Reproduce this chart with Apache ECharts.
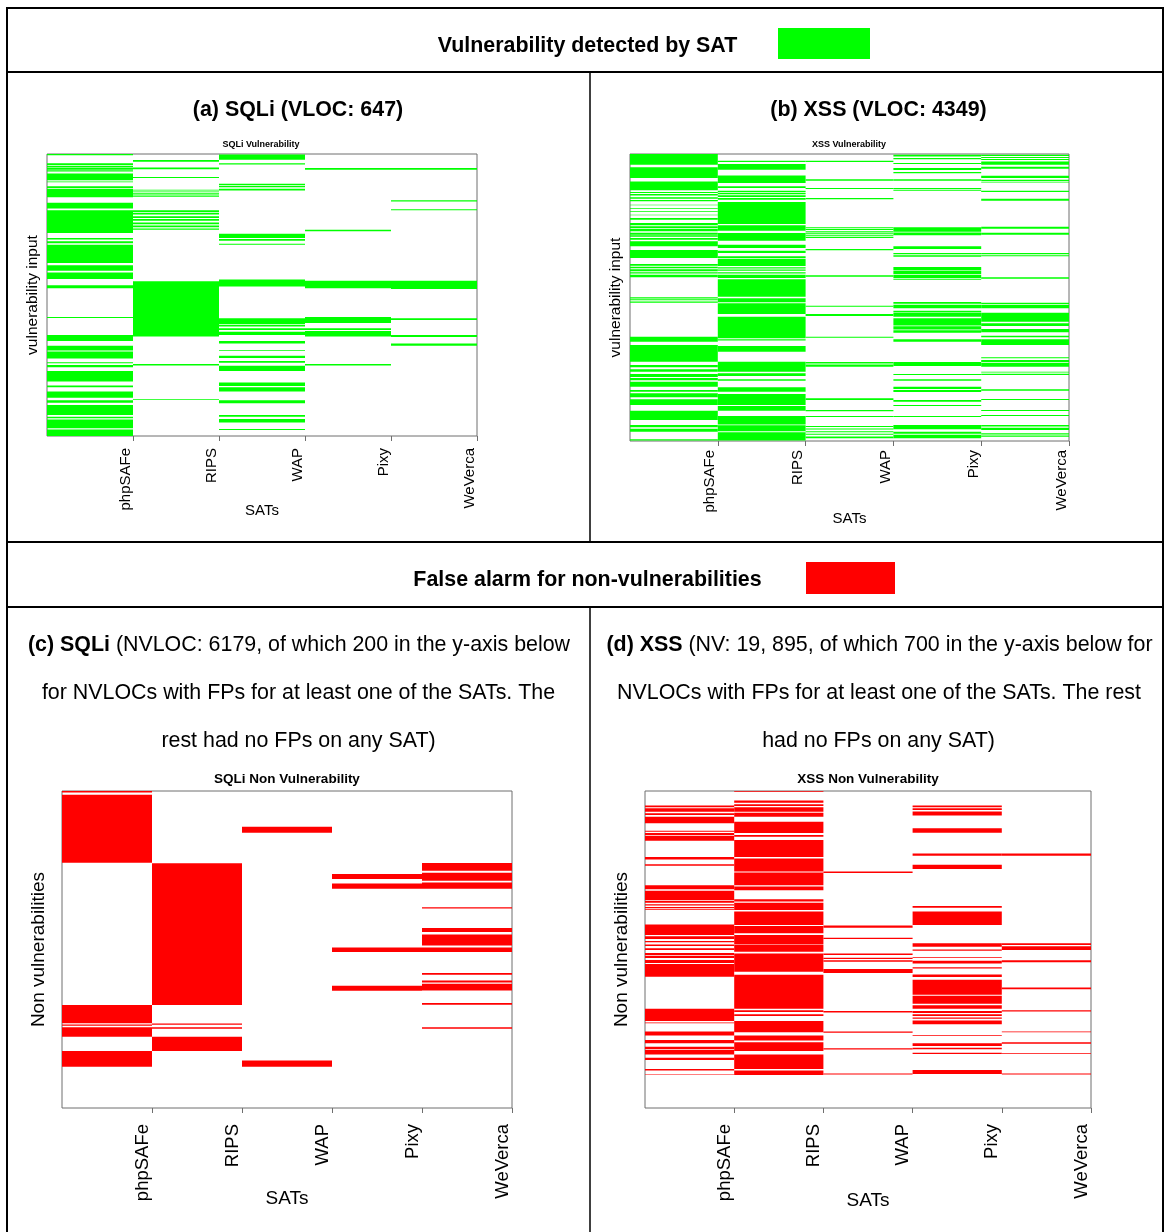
<!DOCTYPE html>
<html>
<head>
<meta charset="utf-8">
<script src="https://cdn.jsdelivr.net/npm/echarts@6/dist/echarts.min.js"></script>
<style>
  html, body { margin: 0; padding: 0; background: #fff; }
  #chart { width: 1169px; height: 1232px; }
</style>
</head>
<body>
<div id="chart"></div>
<script>
// Static analysis tools (columns of every heat strip)
const SATS = ['phpSAFe', 'RIPS', 'WAP', 'Pixy', 'WeVerca'];

// Row counts of each strip chart (y axis length)
const ROWS_SQLI_V = 647;
const ROWS_XSS_V = 4349;
const ROWS_SQLI_NV = 200;
const ROWS_XSS_NV = 700;

// Runs of rows [first, last] flagged by each tool, listed per tool in SATS order.
// (a) SQLi vulnerabilities detected
const SQLI_VULN = [
  [[0,3],[21,25],[27,31],[32,36],[37,40],[45,60],[63,65],[74,78],[80,99],[112,125],[129,181],[193,196],[200,205],[208,250],[255,268],[272,287],[301,308],[374,376],[415,429],[440,451],[453,469],[478,480],[484,489],[498,522],[531,535],[545,559],[565,571],[576,599],[603,606],[609,629],[632,647]],
  [[14,18],[31,35],[53,55],[82,84],[86,88],[90,93],[95,98],[129,133],[135,139],[143,147],[149,153],[157,161],[164,168],[171,174],[292,419],[482,485],[562,564]],
  [[1,13],[21,24],[68,71],[73,76],[80,84],[183,193],[195,199],[206,208],[288,304],[377,390],[392,396],[400,404],[408,415],[429,435],[450,452],[463,468],[475,479],[486,498],[524,532],[535,545],[565,572],[599,603],[608,616],[631,633]],
  [[32,36],[174,177],[291,308],[374,388],[400,404],[406,419],[482,485]],
  [[32,36],[106,109],[127,129],[291,310],[377,381],[415,420],[435,440]]
];

// (b) XSS vulnerabilities detected
const XSS_VULN = [
  [[0,162],[202,364],[415,551],[576,591],[606,627],[657,677],[697,717],[768,778],[819,829],[869,879],[919,929],[970,995],[1046,1081],[1096,1121],[1132,1172],[1192,1222],[1232,1253],[1273,1298],[1323,1399],[1455,1576],[1667,1692],[1707,1730],[1745,1778],[1793,1810],[1830,1869],[2172,2190],[2200,2215],[2235,2253],[2768,2844],[2894,3147],[3197,3233],[3263,3298],[3334,3380],[3395,3430],[3450,3526],[3576,3601],[3627,3687],[3717,3803],[3889,4030],[4106,4142],[4162,4207],[4323,4343]],
  [[101,122],[152,238],[324,440],[490,515],[556,580],[590,610],[625,650],[665,692],[728,1061],[1081,1162],[1197,1313],[1374,1424],[1465,1500],[1551,1576],[1586,1697],[1717,1735],[1750,1770],[1790,1810],[1830,1879],[1899,2162],[2187,2248],[2263,2425],[2465,2793],[2808,2825],[2909,2995],[3147,3298],[3324,3364],[3414,3435],[3536,3601],[3637,3803],[3818,3889],[3970,4100],[4110,4200],[4215,4343]],
  [[101,122],[384,404],[515,530],[667,687],[1111,1125],[1135,1150],[1170,1185],[1195,1210],[1225,1240],[1255,1273],[1440,1460],[1839,1859],[2298,2314],[2425,2455],[2768,2783],[3152,3175],[3190,3223],[3702,3728],[3879,3899],[3970,3985],[4121,4135],[4160,4175],[4200,4215],[4240,4255],[4280,4308]],
  [[10,36],[61,81],[137,152],[212,242],[273,293],[384,404],[515,530],[540,556],[1111,1180],[1190,1232],[1399,1440],[1500,1520],[1535,1556],[1712,1760],[1770,1820],[1830,1880],[1890,1904],[2243,2270],[2285,2339],[2374,2400],[2410,2465],[2490,2600],[2610,2660],[2670,2707],[2808,2844],[3152,3212],[3334,3349],[3414,3435],[3526,3560],[3575,3606],[3728,3753],[3803,3818],[3970,3985],[4106,4172],[4207,4240],[4255,4308]],
  [[10,30],[45,60],[75,91],[112,162],[192,222],[329,364],[389,410],[420,430],[556,576],[677,707],[1101,1132],[1192,1222],[1500,1520],[1535,1551],[1869,1889],[2253,2275],[2290,2339],[2404,2541],[2566,2606],[2652,2702],[2753,2778],[2808,2894],[3081,3096],[3122,3150],[3165,3223],[3298,3310],[3330,3349],[3566,3586],[3713,3728],[3879,3894],[3955,3970],[4106,4130],[4150,4182],[4232,4250],[4265,4283]]
];

// (c) SQLi false alarms on non-vulnerable lines
const SQLI_NONVULN = [
  [[0,0.9],[2.3,45.2],[135,146.6],[147.3,148.1],[149,155],[164,174]],
  [[45.6,135],[146.7,147.4],[149,150],[155,164]],
  [[22.5,26.3],[170,174]],
  [[52.4,55.5],[58.3,61.6],[98.7,101.6],[122.9,126]],
  [[45.4,50.3],[51.5,56.6],[57.8,61.6],[73.4,74.2],[86.4,89],[90.6,97.4],[98.7,101.6],[114.9,116],[119.5,120.8],[121.6,125.8],[133.8,134.9],[149,150]]
];

// (d) XSS false alarms on non-vulnerable lines
const XSS_NONVULN = [
  [[32,36],[38,46],[49,53],[57,71],[88,90],[93,97],[99,110],[146,151],[162,165],[208,217],[220,241],[243,247],[250,253],[256,259],[261,263],[295,318],[321,327],[331,334],[339,342],[347,351],[358,362],[364,369],[373,380],[382,410],[481,508],[511,513],[531,540],[550,557],[565,570],[572,582],[589,594],[614,617],[625,626]],
  [[0,1.5],[21,26],[29,33],[36,46],[48,57],[68,93],[97,101],[108,146],[149,178],[180,208],[211,219],[239,244],[247,263],[266,296],[298,314],[318,339],[340,355],[359,399],[406,481],[484,488],[493,497],[508,533],[540,551],[555,574],[582,614],[617,627]],
  [[178,181],[297,302],[324,327],[359,362],[368,371],[374,377],[393,402],[486,489],[531,534],[568,571],[624,626]],
  [[32,36],[38,42],[45,54],[82,92],[138,143],[163,172],[254,258],[266,296],[336,344],[350,353],[367,369],[375,381],[389,392],[405,411],[417,450],[452,470],[473,481],[486,490],[493,497],[500,503],[507,515],[539,540.5],[557,563],[567,570],[578,581],[616,625]],
  [[138,143],[336,340],[343,351],[374,378],[434,438],[484,487],[531,533],[555,558],[579,581],[624,626]]
];

const GREEN = '#00ff00';
const RED = '#ff0000';
const FONT = '"Liberation Sans", Arial, Helvetica, sans-serif';

// flatten per-tool runs into [toolIndex, firstRow, lastRow] items
function toItems(cols) {
  const out = [];
  cols.forEach((runs, c) => runs.forEach(r => out.push([c, r[0], r[1]])));
  return out;
}

function renderStripe(params, api) {
  const c = api.value(0);
  const a = api.coord([c, api.value(1)]);
  const b = api.coord([c + 1, api.value(2)]);
  return {
    type: 'rect',
    shape: { x: a[0], y: a[1], width: b[0] - a[0], height: Math.max(b[1] - a[1], 0.5) },
    style: api.style()
  };
}

const panels = [
  { rows: ROWS_SQLI_V, data: SQLI_VULN, color: GREEN, grid: { left: 47, top: 154, width: 430, height: 282 },
    yName: 'vulnerability input', yNameSize: 15.5, yGap: 6, tickSize: 15, labelMargin: 12, xNameSize: 15, xGap: 67 },
  { rows: ROWS_XSS_V, data: XSS_VULN, color: GREEN, grid: { left: 630, top: 154, width: 439, height: 287 },
    yName: 'vulnerability input', yNameSize: 15.5, yGap: 6, tickSize: 15, labelMargin: 9, xNameSize: 15, xGap: 70 },
  { rows: ROWS_SQLI_NV, data: SQLI_NONVULN, color: RED, grid: { left: 62, top: 791, width: 450, height: 317 },
    yName: 'Non vulnerabilities', yNameSize: 19, yGap: 14, tickSize: 18.5, labelMargin: 16, xNameSize: 19, xGap: 81 },
  { rows: ROWS_XSS_NV, data: XSS_NONVULN, color: RED, grid: { left: 645, top: 791, width: 446, height: 317 },
    yName: 'Non vulnerabilities', yNameSize: 19, yGap: 14, tickSize: 18.5, labelMargin: 16, xNameSize: 19, xGap: 83 }
];

const grids = [], xAxes = [], yAxes = [], series = [];
panels.forEach((p, i) => {
  grids.push(Object.assign({ show: true, borderColor: '#6e6e6e', borderWidth: 1, containLabel: false }, p.grid));
  xAxes.push({
    gridIndex: i, type: 'value', position: 'bottom', min: 0, max: 5, interval: 1,
    axisLine: { show: false, onZero: false }, splitLine: { show: false },
    axisTick: { show: true, length: 5, customValues: [1, 2, 3, 4, 5], lineStyle: { color: '#6e6e6e' } },
    axisLabel: {
      rotate: 90, margin: p.labelMargin, fontSize: p.tickSize, fontFamily: FONT, color: '#000',
      verticalAlign: 'bottom',
      customValues: [1, 2, 3, 4, 5],
      formatter: v => (v >= 1 ? SATS[v - 1] : '')
    },
    name: 'SATs', nameLocation: 'middle', nameGap: p.xGap, nameMoveOverlap: false,
    nameTextStyle: { fontSize: p.xNameSize, fontFamily: FONT, color: '#000' }
  });
  yAxes.push({
    gridIndex: i, type: 'value', min: 0, max: p.rows, inverse: true,
    axisLine: { show: false, onZero: false }, axisTick: { show: false }, axisLabel: { show: false }, splitLine: { show: false },
    name: p.yName, nameLocation: 'middle', nameGap: p.yGap, nameMoveOverlap: false,
    nameTextStyle: { fontSize: p.yNameSize, fontFamily: FONT, color: '#000' }
  });
  series.push({
    type: 'custom', xAxisIndex: i, yAxisIndex: i, silent: true, clip: true,
    renderItem: renderStripe, encode: { x: 0, y: [1, 2] },
    itemStyle: { color: p.color },
    data: toItems(p.data)
  });
});

// helpers for the framing table drawn around the four strip charts
function hline(y, x1, x2, w) { return { type: 'line', shape: { x1, y1: y, x2, y2: y }, style: { stroke: '#000', lineWidth: w } }; }
function vline(x, y1, y2, w) { return { type: 'line', shape: { x1: x, y1, x2: x, y2 }, style: { stroke: '#000', lineWidth: w } }; }
function label(text, x, y, size, weight, rich) {
  return { type: 'text', x, y, style: { text, align: 'center', verticalAlign: 'middle',
    fontSize: size, fontWeight: weight || 'normal', fontFamily: FONT, fill: '#000', rich } };
}
const bodyRich = size => ({ b: { fontSize: size, fontWeight: 'bold', fontFamily: FONT, fill: '#000' } });
const CAP = 21.4;

const graphic = [
  // table frame
  hline(8, 6, 1164, 2), hline(72, 6, 1164, 2), hline(542, 6, 1164, 2), hline(607, 6, 1164, 2),
  vline(7, 7, 1232, 2), vline(1163, 7, 1232, 2),
  vline(590, 72, 542, 1.5), vline(590, 607, 1232, 1.5),
  // section headers with colour keys
  label('Vulnerability detected by SAT', 587.5, 46, CAP, 'bold'),
  { type: 'rect', shape: { x: 778, y: 28, width: 92, height: 31 }, style: { fill: GREEN } },
  label('False alarm for non-vulnerabilities', 587.5, 580, CAP, 'bold'),
  { type: 'rect', shape: { x: 806, y: 562, width: 89, height: 32 }, style: { fill: RED } },
  // panel captions
  label('(a) SQLi (VLOC: 647)', 298, 110, CAP, 'bold'),
  label('(b) XSS (VLOC: 4349)', 878.5, 110, CAP, 'bold'),
  label('{b|(c) SQLi} (NVLOC: 6179, of which 200 in the y-axis below', 299, 645, CAP, 'normal', bodyRich(CAP)),
  label('for NVLOCs with FPs for at least one of the SATs. The', 298.5, 693, CAP),
  label('rest had no FPs on any SAT)', 298.5, 741, CAP),
  label('{b|(d) XSS} (NV: 19, 895, of which 700 in the y-axis below for', 879.5, 645, CAP, 'normal', bodyRich(CAP)),
  label('NVLOCs with FPs for at least one of the SATs. The rest', 879, 693, CAP),
  label('had no FPs on any SAT)', 878.5, 741, CAP),
  // chart titles
  label('SQLi Vulnerability', 261, 145, 9, 'bold'),
  label('XSS Vulnerability', 849, 145, 9, 'bold'),
  label('SQLi Non Vulnerability', 287, 779, 13.5, 'bold'),
  label('XSS Non Vulnerability', 868, 779, 13.5, 'bold')
];

const chart = echarts.init(document.getElementById('chart'), null, { renderer: 'canvas' });
chart.setOption({
  animation: false,
  backgroundColor: '#fff',
  grid: grids, xAxis: xAxes, yAxis: yAxes, series,
  graphic
});
</script>
</body>
</html>
